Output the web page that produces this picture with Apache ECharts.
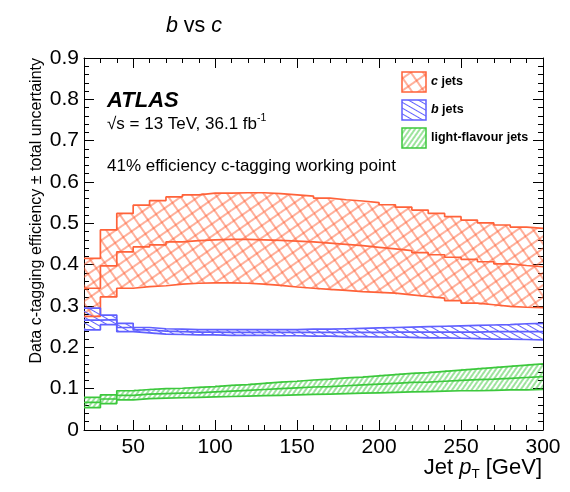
<!DOCTYPE html>
<html>
<head>
<meta charset="utf-8">
<script src="https://cdn.jsdelivr.net/npm/echarts@6/dist/echarts.min.js"></script>
<style>
  html, body { margin: 0; padding: 0; background: #fff; }
  #chart { width: 570px; height: 492px; }
</style>
</head>
<body>
<div id="chart"></div>
<script>
// Jet pT bin edges [GeV]
const binEdges = [20, 30, 40, 50, 60, 70, 80, 90, 100, 110, 120, 130, 140, 150, 160,
  170, 180, 190, 200, 210, 220, 230, 240, 250, 260, 270, 280, 290, 300];

// c jets: upper edge, central value, lower edge of the efficiency band
const cUp = [0.415, 0.484, 0.524, 0.544, 0.555, 0.564, 0.569, 0.573, 0.573, 0.574, 0.574, 0.572, 0.569, 0.566,
  0.561, 0.557, 0.554, 0.550, 0.545, 0.539, 0.532, 0.524, 0.516, 0.508, 0.501, 0.496, 0.491, 0.488];
const cMid = [0.343, 0.397, 0.431, 0.443, 0.448, 0.455, 0.458, 0.460, 0.461, 0.461, 0.460, 0.459, 0.457, 0.455,
  0.452, 0.449, 0.446, 0.442, 0.438, 0.434, 0.429, 0.424, 0.418, 0.413, 0.407, 0.402, 0.398, 0.395];
const cDown = [0.275, 0.322, 0.343, 0.347, 0.349, 0.353, 0.355, 0.356, 0.356, 0.355, 0.353, 0.350, 0.346, 0.343,
  0.340, 0.338, 0.335, 0.333, 0.331, 0.327, 0.323, 0.319, 0.313, 0.307, 0.303, 0.299, 0.297, 0.296];

// b jets
const bUp = [0.295, 0.278, 0.258, 0.248, 0.245, 0.244, 0.243, 0.243, 0.243, 0.243, 0.243, 0.243, 0.243, 0.244,
  0.244, 0.245, 0.246, 0.247, 0.248, 0.249, 0.250, 0.251, 0.252, 0.253, 0.254, 0.255, 0.257, 0.258];
const bMid = [0.266, 0.267, 0.248, 0.242, 0.239, 0.238, 0.237, 0.237, 0.236, 0.236, 0.236, 0.236, 0.236, 0.236,
  0.236, 0.236, 0.236, 0.236, 0.237, 0.237, 0.237, 0.237, 0.237, 0.237, 0.238, 0.238, 0.238, 0.238];
const bDown = [0.242, 0.255, 0.238, 0.235, 0.232, 0.231, 0.230, 0.230, 0.229, 0.229, 0.229, 0.228, 0.228, 0.227,
  0.227, 0.226, 0.226, 0.225, 0.225, 0.224, 0.223, 0.223, 0.222, 0.221, 0.220, 0.220, 0.219, 0.218];

// light-flavour jets
const lUp = [0.079, 0.085, 0.095, 0.098, 0.100, 0.101, 0.103, 0.105, 0.108, 0.110, 0.113, 0.116, 0.118, 0.121,
  0.123, 0.126, 0.128, 0.131, 0.134, 0.137, 0.139, 0.142, 0.145, 0.148, 0.151, 0.154, 0.157, 0.160];
const lMid = [0.067, 0.075, 0.084, 0.087, 0.088, 0.089, 0.090, 0.092, 0.094, 0.096, 0.098, 0.100, 0.102, 0.104,
  0.105, 0.107, 0.109, 0.111, 0.113, 0.115, 0.116, 0.118, 0.120, 0.122, 0.123, 0.125, 0.127, 0.129];
const lDown = [0.054, 0.064, 0.073, 0.076, 0.077, 0.078, 0.079, 0.080, 0.081, 0.082, 0.083, 0.084, 0.085, 0.086,
  0.087, 0.088, 0.089, 0.090, 0.091, 0.092, 0.093, 0.094, 0.095, 0.095, 0.096, 0.097, 0.097, 0.098];

// axis ticks
const xMajorTicks = [50, 100, 150, 200, 250, 300];
const xRange = [20, 300];
const yRange = [0, 0.9];

const FONT = '"Liberation Sans", Arial, Helvetica, sans-serif';
const C_COL = '#ff6239';
const B_COL = '#6060ff';
const L_COL = '#3cc83c';

// hatch tile: horizontal line (optionally plus vertical), rotated by the pattern transform
function hatchTile(size, color, cross) {
  const cv = document.createElement('canvas');
  cv.width = size; cv.height = size;
  const g = cv.getContext('2d');
  g.strokeStyle = color;
  g.lineWidth = 1;
  g.beginPath();
  g.moveTo(0, size / 2); g.lineTo(size, size / 2);
  if (cross) { g.moveTo(size / 2, 0); g.lineTo(size / 2, size); }
  g.stroke();
  return cv;
}
const deg = Math.PI / 180;
const cPattern = { image: hatchTile(10, C_COL, true), repeat: 'repeat', rotation: -35 * deg };
const bPattern = { image: hatchTile(5, B_COL, false), repeat: 'repeat', rotation: 30 * deg };
const lPattern = { image: hatchTile(4, L_COL, false), repeat: 'repeat', rotation: -55 * deg };

function bandSeries(name, up, down, pattern) {
  return {
    name: name,
    type: 'custom',
    xAxisIndex: 0, yAxisIndex: 0,
    silent: true,
    animation: false,
    encode: { x: [0, 1], y: [2, 3] },
    data: up.map((u, i) => [binEdges[i], binEdges[i + 1], down[i], u]),
    renderItem: function (params, api) {
      const p0 = api.coord([api.value(0), api.value(3)]);
      const p1 = api.coord([api.value(1), api.value(2)]);
      return {
        type: 'rect',
        shape: { x: p0[0], y: p0[1], width: p1[0] - p0[0], height: p1[1] - p0[1] },
        style: { fill: pattern, stroke: null }
      };
    }
  };
}

function stepSeries(name, vals, color) {
  return {
    name: name,
    type: 'line',
    xAxisIndex: 0, yAxisIndex: 0,
    step: 'end',
    symbol: 'none',
    silent: true,
    animation: false,
    lineStyle: { color: color, width: 1.7 },
    data: binEdges.map((e, i) => [e, vals[Math.min(i, vals.length - 1)]])
  };
}

const minorX = (pos) => ({
  type: 'value', min: xRange[0], max: xRange[1], interval: 10, position: pos,
  axisLine: { show: true, onZero: false, lineStyle: { color: '#000', width: 1 } },
  axisTick: { show: true, inside: true, length: 5, lineStyle: { color: '#000', width: 1 } },
  axisLabel: pos === 'bottom'
    ? { show: true, formatter: v => (v % 50 === 0 ? String(v) : ''), fontSize: 21, color: '#000', fontFamily: FONT, margin: 7 }
    : { show: false },
  splitLine: { show: false }
});
const majorX = (pos) => ({
  type: 'value', min: xRange[0], max: xRange[1], position: pos,
  axisLine: { show: false, onZero: false },
  axisTick: { show: true, inside: true, length: 10, customValues: xMajorTicks, lineStyle: { color: '#000', width: 1 } },
  axisLabel: { show: false },
  splitLine: { show: false }
});
const yAx = (pos) => ({
  type: 'value', min: yRange[0], max: yRange[1], interval: 0.1, position: pos,
  axisLine: { show: true, onZero: false, lineStyle: { color: '#000', width: 1 } },
  axisTick: { show: true, inside: true, length: 10, lineStyle: { color: '#000', width: 1 } },
  minorTick: { show: true, splitNumber: 5, length: 5, lineStyle: { color: '#000', width: 1 } },
  axisLabel: pos === 'left'
    ? { show: true, formatter: v => (Math.abs(v) < 1e-9 ? '0' : v.toFixed(1)), fontSize: 21, color: '#000', fontFamily: FONT, margin: 5 }
    : { show: false },
  splitLine: { show: false },
  minorSplitLine: { show: false }
});

const legendItems = [
  { rich: '{ib|c}{b| jets}', color: C_COL, pattern: cPattern },
  { rich: '{ib|b}{b| jets}', color: B_COL, pattern: bPattern },
  { rich: '{b|light-flavour jets}', color: L_COL, pattern: lPattern }
];
const legendGraphics = [];
legendItems.forEach((it, i) => {
  const top = 72 + i * 28;
  legendGraphics.push({
    type: 'rect', silent: true,
    shape: { x: 402, y: top, width: 24, height: 20 },
    style: { fill: it.pattern, stroke: it.color, lineWidth: 1.5 }
  });
  legendGraphics.push({
    type: 'text', silent: true, x: 431, y: top + 10,
    style: {
      text: it.rich, fill: '#000', align: 'left', verticalAlign: 'middle',
      textAlign: 'left', textVerticalAlign: 'middle',
      rich: {
        b: { fontFamily: FONT, fontSize: 12.5, fontWeight: 'bold', fill: '#000' },
        ib: { fontFamily: FONT, fontSize: 12.5, fontWeight: 'bold', fontStyle: 'italic', fill: '#000' }
      }
    }
  });
});

const chart = echarts.init(document.getElementById('chart'), null, { renderer: 'canvas' });
chart.setOption({
  animation: false,
  backgroundColor: '#fff',
  grid: { left: 84, right: 27, top: 58, bottom: 62, containLabel: false, outerBoundsMode: 'none' },
  xAxis: [minorX('bottom'), majorX('bottom'), minorX('top'), majorX('top')],
  yAxis: [yAx('left'), yAx('right')],
  series: [
    bandSeries('c jets', cUp, cDown, cPattern),
    bandSeries('b jets', bUp, bDown, bPattern),
    bandSeries('light-flavour jets', lUp, lDown, lPattern),
    stepSeries('c up', cUp, C_COL), stepSeries('c mid', cMid, C_COL), stepSeries('c down', cDown, C_COL),
    stepSeries('b up', bUp, B_COL), stepSeries('b mid', bMid, B_COL), stepSeries('b down', bDown, B_COL),
    stepSeries('l up', lUp, L_COL), stepSeries('l mid', lMid, L_COL), stepSeries('l down', lDown, L_COL)
  ],
  graphic: [
    {
      type: 'text', silent: true, x: 194, y: 26,
      style: {
        text: '{i|b}{n| vs }{i|c}', align: 'center', verticalAlign: 'middle',
        textAlign: 'center', textVerticalAlign: 'middle',
        rich: {
          n: { fontFamily: FONT, fontSize: 21.5, fill: '#000' },
          i: { fontFamily: FONT, fontSize: 21.5, fontStyle: 'italic', fill: '#000' }
        }
      }
    },
    {
      type: 'text', silent: true, x: 107, y: 101,
      style: {
        text: 'ATLAS', fill: '#000', font: 'italic bold 22px ' + FONT,
        align: 'left', verticalAlign: 'middle', textAlign: 'left', textVerticalAlign: 'middle'
      }
    },
    {
      type: 'text', silent: true, x: 107, y: 124,
      style: {
        text: '{n|√s = 13 TeV, 36.1 fb}{s|-1}', align: 'left', verticalAlign: 'middle',
        textAlign: 'left', textVerticalAlign: 'middle',
        rich: {
          n: { fontFamily: FONT, fontSize: 17, fill: '#000', lineHeight: 22, verticalAlign: 'middle' },
          s: { fontFamily: FONT, fontSize: 10.5, fill: '#000', lineHeight: 10, verticalAlign: 'top' }
        }
      }
    },
    {
      type: 'text', silent: true, x: 107, y: 166,
      style: {
        text: '41% efficiency c-tagging working point', fill: '#000', font: '17px ' + FONT,
        align: 'left', verticalAlign: 'middle', textAlign: 'left', textVerticalAlign: 'middle'
      }
    },
    {
      type: 'text', silent: true, x: 542, y: 468,
      style: {
        text: '{n|Jet }{i|p}{s|T}{n| [GeV]}', align: 'right', verticalAlign: 'middle',
        textAlign: 'right', textVerticalAlign: 'middle',
        rich: {
          n: { fontFamily: FONT, fontSize: 22, fill: '#000', lineHeight: 26, verticalAlign: 'middle' },
          i: { fontFamily: FONT, fontSize: 22, fontStyle: 'italic', fill: '#000', lineHeight: 26, verticalAlign: 'middle' },
          s: { fontFamily: FONT, fontSize: 13.5, fill: '#000', lineHeight: 13, verticalAlign: 'bottom' }
        }
      }
    },
    {
      type: 'text', silent: true, x: 37, y: 58, rotation: Math.PI / 2,
      style: {
        text: 'Data c-tagging efficiency ± total uncertainty', fill: '#000', font: '16px ' + FONT,
        align: 'right', verticalAlign: 'middle', textAlign: 'right', textVerticalAlign: 'middle'
      }
    }
  ].concat(legendGraphics)
});
</script>
</body>
</html>
